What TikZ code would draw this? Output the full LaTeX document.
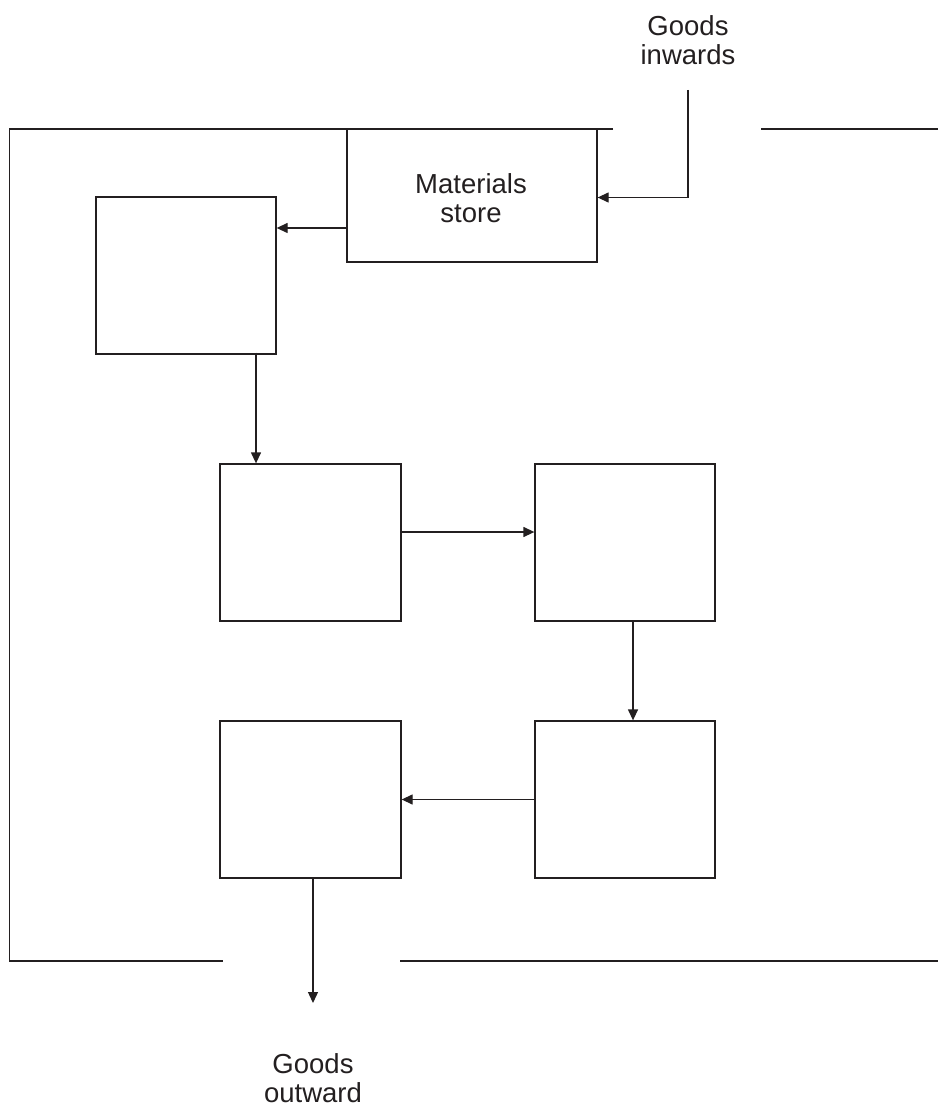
\documentclass[tikz,border=0pt]{standalone}
\usepackage{fontspec}
\setmainfont{Liberation Sans}
\usetikzlibrary{arrows.meta,calc}
\definecolor{ink}{RGB}{35,31,32}
\begin{document}
\begin{tikzpicture}[x=1pt,y=-1pt,
  line width=1.3pt,
  frame/.style={draw=ink,line width=1.3pt},
  box/.style={draw=ink,rectangle,inner sep=0pt,line width=1.3pt},
  arr/.style={-{Triangle[length=11pt,width=10pt]},draw=ink,line width=1.3pt},
  lbl/.style={align=center,inner sep=0pt,text=ink,font=\fontsize{27.5}{29}\selectfont}]
\useasboundingbox (0,0) rectangle (938,1107);
% outer boundary
\draw[frame] (613,129) -- (9.5,129) -- (9.5,961) -- (222.5,961);
\draw[frame] (761,129) -- (938,129);
\draw[frame] (400,961) -- (938,961);
% boxes
\node[box,minimum width=250pt,minimum height=133pt] (store) at (472,195.5) {};
\node[lbl] (storetxt) at (471,198) {Materials\\store};
\node[box,minimum width=180pt,minimum height=157pt] (b1) at (186,275.5) {};
\node[box,minimum width=181pt,minimum height=157pt] (b2) at (310.5,542.5) {};
\node[box,minimum width=180pt,minimum height=157pt] (b3) at (625,542.5) {};
\node[box,minimum width=180pt,minimum height=157pt] (b4) at (625,799.5) {};
\node[box,minimum width=181pt,minimum height=157pt] (b5) at (310.5,799.5) {};
% labels
\node[lbl] (gin) at (688,40) {Goods\\inwards};
\node[lbl] (gout) at (313,1078) {Goods\\outward};
\coordinate (ginstart) at (688,90);
\coordinate (goutend) at (313,1003);
% connectors
\draw[arr] (ginstart) |- ($(store.east)+(0,2)$);
\draw[arr] ($(store.west)+(0,32.5)$) -- ($(b1.east)+(0,-47.5)$);
\draw[arr] ($(b1.south)+(70,-2)$) -- ($(b2.north)+(-54.5,0)$);
\draw[arr] ($(b2.east)+(0,-10.5)$) -- ($(b3.west)+(0,-10.5)$);
\draw[arr] ($(b3.south)+(8,0)$) -- ($(b4.north)+(8,0)$);
\draw[arr] (b4.west) -- (b5.east);
\draw[arr] ($(b5.south)+(2.5,0)$) -- (goutend);
\end{tikzpicture}
\end{document}
